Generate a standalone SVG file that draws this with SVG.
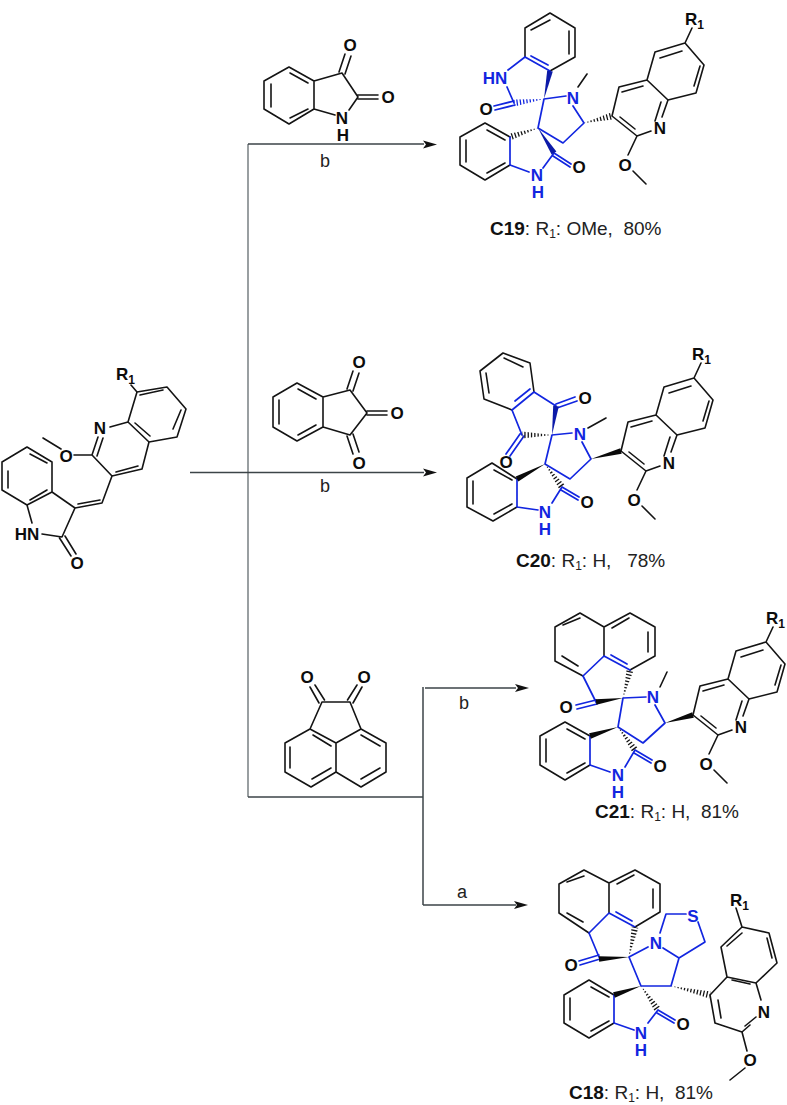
<svg xmlns="http://www.w3.org/2000/svg" xmlns:xlink="http://www.w3.org/1999/xlink" width="787" height="1105" viewBox="0 0 787 1105">
<style>
text{font-family:"Liberation Sans",Arial,sans-serif}
.k{fill:none;stroke:#141414;stroke-width:1.6;stroke-linejoin:round;stroke-linecap:round}
.b{fill:none;stroke:#1226e0;stroke-width:1.7;stroke-linejoin:round;stroke-linecap:round}
.wk{fill:#0a0a0a}
.wb{fill:#0c1aa8}
.hk{stroke:#141414;stroke-width:8;stroke-dasharray:1.3 2;fill:none}
.hb{stroke:#1226e0;stroke-width:8;stroke-dasharray:1.3 2;fill:none}
.a{font-size:17px;font-weight:700;fill:#0c0c0c;text-anchor:middle}
.ab{font-size:17px;font-weight:700;fill:#1226e0;text-anchor:middle}
.r{font-size:17px;font-weight:700;fill:#0c0c0c}
.s{font-size:12px}
.c{font-size:19px;fill:#222}
.c .m{font-weight:700;fill:#111}
.l{font-size:18px;fill:#222;text-anchor:middle}
.w{fill:none;stroke:#3c4448;stroke-width:1.5}
.g{fill:none;stroke:#80878a;stroke-width:1.6}
.h{fill:#111}
</style>
<defs>
<g id="q">
<path class="k" d="M0,0L7,-29L35,-36L56,-16L50,1M25,20L39,15M25,20L0,0M35,-36L43,-64L73,-73L92,-51L84,-23L56,-16M73,-73L80,-88M25,20L16,39M21,55L34,68M10,-24L31,-30M8,1L23,13M49,-14L43,5M48,-58L70,-65M88,-50L82,-30"/>
</g>
<clipPath id="h1"><polygon points="544,99 514.5,106.5 513.5,99.5"/></clipPath>
<clipPath id="h2"><polygon points="538,128 511.1,140.3 508.9,133.7"/></clipPath>
<clipPath id="h3"><polygon points="584,123 612.85,119.4 611.15,112.6"/></clipPath>
<clipPath id="h4"><polygon points="552,435 522,438.5 522,431.5"/></clipPath>
<clipPath id="h5"><polygon points="545,464 564.8,484.9 559.2,489.1"/></clipPath>
<clipPath id="h6"><polygon points="623,698 633.4,670.85 626.6,669.15"/></clipPath>
<clipPath id="h7"><polygon points="618,727 637.8,747.9 632.2,752.1"/></clipPath>
<clipPath id="h8"><polygon points="629,957 638.4,927.7 631.6,926.3"/></clipPath>
<clipPath id="h9"><polygon points="641,986 660.9,1008 655.1,1012"/></clipPath>
<clipPath id="h10"><polygon points="671,986 709.2,998.4 710.8,991.6"/></clipPath>
</defs>

<g id="connectors">
<path class="g" d="M248,144V797"/>
<path class="w" d="M248,144H424M190,472.500H424M248,797H423M423,687V905M425,688H516M423,905H516"/>
<polygon class="h" points="437,144.500 423,140.500 426,144.500 423,148.500"/>
<polygon class="h" points="437,472.500 423,468.500 426,472.500 423,476.500"/>
<polygon class="h" points="529,688 515,684 518,688 515,692"/>
<polygon class="h" points="528,905 514,901 517,905 514,909"/>
<text class="l" x="325" y="167">b</text>
<text class="l" x="325" y="492">b</text>
<text class="l" x="464" y="709">b</text>
<text class="l" x="462" y="898">a</text>
</g>

<g id="reactant">
<path class="k" d="M52,492L52,462L27,447L2,462L2,490L27,505L52,492L75,508L62,537L42,534M27,505L32,523M30,454L47,463M8,471L8,488M30,500L47,490M59.500,538L71,556M65,536L76,554M75,508L102,503L112,476L142,469L149,442L128,422L110,427M78,504L100,500M116,472L138,466M128,422L137,392L167,387L186,409L177,437L149,442M140,395L163,390M181,410L173,429M135,423L150,436M137,392L131,385M98,437L92,455L112,476M103,438L97,456M92,455L74,455M61,449L43,438"/>
<text class="a" x="100" y="434">N</text>
<text class="a" x="66" y="462">O</text>
<text class="a" x="27" y="540">HN</text>
<text class="a" x="77" y="569">O</text>
<text class="r" x="116" y="380">R<tspan class="s" dy="4">1</tspan></text>
</g>

<g id="isatin">
<path class="k" d="M264,81L289,67L314,81L314,109L289,124L264,109ZM271,84L271,107M290,73L308,83M290,118L308,109M314,81L342,73L358,97L349,110M335,115L314,109M339,72L345,54M345,74L351,56M358,95L378,95M358,99L378,99"/>
<text class="a" x="350" y="51">O</text>
<text class="a" x="388" y="103">O</text>
<text class="a" x="342" y="124">N</text>
<text class="a" x="343" y="141">H</text>
</g>

<g id="ninhydrin">
<path class="k" d="M273,397L297,383L323,397L323,427L297,441L273,427ZM279,400L279,424M298,389L316,399M298,435L316,425M323,397L350,390L367,413L350,435L323,427M347,389L353,371M353,391L359,373M367,411L387,411M367,415L387,415M347,436L353,454M353,434L359,452"/>
<text class="a" x="359" y="368">O</text>
<text class="a" x="397" y="419">O</text>
<text class="a" x="359" y="469">O</text>
</g>

<g id="acenaphthoquinone">
<path class="k" d="M322,702H350M310,729L322,702M361,729L350,702M285,743L310,729L336,743L361,729L386,743V772L361,787L336,772L311,787L285,772ZM336,743V772M290,747V768M312,779L331,768M313,735L331,746M361,735L380,746M361,779L380,768M319,703L310,687M324.500,700L315,685M347.500,700L357,685M353,703L362,687"/>
<text class="a" x="307" y="683">O</text>
<text class="a" x="364" y="683">O</text>
</g>

<g id="C19">
<path class="k" d="M525,57L525,28L550,13L575,28L575,57L550,71M531,30L550,20M569,31L569,54M578,87L587,74M510,137L485,123L460,137L460,165L485,180L510,165M466,140L466,162M487,130L505,140M487,173L505,163"/>
<use xlink:href="#q" href="#q" x="612" y="116"/>
<path class="b" d="M525,57L550,71M531,56L548,65M525,57L508,70M507,87L514,103M514,101L494,106M515,105L495,110M544,99L566,96M573,106L584,123L563,143L538,128L544,99M510,137L510,165L529,172M543,168L554,153L571,164M553,156L570,167"/>
<polygon class="wb" points="544,99 552.8,71.600 547.200,70.400"/>
<polygon class="wb" points="538,128 556.400,151.500 551.600,154.500"/>
<line class="hb" x1="544" y1="99" x2="514" y2="103" clip-path="url(#h1)"/>
<line class="hk" x1="538" y1="128" x2="510" y2="137" clip-path="url(#h2)"/>
<line class="hk" x1="584" y1="123" x2="612" y2="116" clip-path="url(#h3)"/>
<text class="ab" x="495" y="84">HN</text>
<text class="a" x="486" y="115">O</text>
<text class="ab" x="573" y="104">N</text>
<text class="ab" x="537" y="181">N</text>
<text class="ab" x="538" y="198">H</text>
<text class="a" x="579" y="173">O</text>
<text class="a" x="660" y="134">N</text>
<text class="a" x="625" y="171">O</text>
<text class="r" x="685" y="25">R<tspan class="s" dy="4">1</tspan></text>
<text class="c" x="490" y="235"><tspan class="m">C19</tspan>: R<tspan class="s" dy="3">1</tspan><tspan dy="-3">: OMe,&#160; 80%</tspan></text>
</g>

<g id="C20">
<path class="k" d="M534,392L530,363L503,353L480,371L484,399L512,410M504,358L523,367M486,373L489,393M588,428L606,418M517,479L492,463L467,478L467,507L493,521L517,507M473,481L473,504M494,470L512,480M494,514L512,504"/>
<use xlink:href="#q" href="#q" x="621" y="451"/>
<path class="b" d="M512,410L534,392L556,406M515,401L530,389M512,410L522,435M556,404L575,397M557,408L577,401M520,434L506,454M524,436L510,456M552,435L572,433M582,442L591,459L570,479L545,464L552,435M517,479L517,507L538,510M552,503L562,487L579,497M561,490L578,500"/>
<polygon class="wb" points="552,435 558.800,406.400 553.200,405.600"/>
<polygon class="wk" points="545,464 518.300,481.500 515.700,476.500"/>
<polygon class="wk" points="591,459 621.700,453.700 620.300,448.300"/>
<line class="hk" x1="552" y1="435" x2="522" y2="435" clip-path="url(#h4)"/>
<line class="hk" x1="545" y1="464" x2="562" y2="487" clip-path="url(#h5)"/>
<text class="a" x="585" y="404">O</text>
<text class="a" x="506" y="468">O</text>
<text class="ab" x="580" y="440">N</text>
<text class="ab" x="545" y="518">N</text>
<text class="ab" x="545" y="535">H</text>
<text class="a" x="587" y="508">O</text>
<text class="a" x="669" y="469">N</text>
<text class="a" x="634" y="506">O</text>
<text class="r" x="692" y="360">R<tspan class="s" dy="4">1</tspan></text>
<text class="c" x="516" y="567"><tspan class="m">C20</tspan>: R<tspan class="s" dy="3">1</tspan><tspan dy="-3">: H,&#160;&#160; 78%</tspan></text>
</g>

<g id="C21">
<path class="k" d="M583,676L555,661V627L580,613L604,627L630,613L655,627V656L630,670M604,627V656M563,625L580,618M562,656L578,666M612,628L629,618M648,632V652M660,687L667,672M590,736L565,722L540,736V765L565,780L590,765M546,739V762M567,729L585,739M567,773L585,763"/>
<use xlink:href="#q" href="#q" x="693" y="715"/>
<path class="b" d="M583,676L604,656L630,670M611,655L627,664M583,676L596,702M596,700L576,705M597,704L577,709M623,698L646,697M655,705L665,723L643,743L618,727L623,698M590,736L590,765L610,772M625,767L635,750L652,760M634,753L651,763"/>
<polygon class="wk" points="623,698 596.400,704.800 595.600,699.200"/>
<polygon class="wk" points="618,727 590.900,738.700 589.100,733.300"/>
<polygon class="wk" points="665,723 693.800,717.700 692.200,712.300"/>
<line class="hk" x1="623" y1="698" x2="630" y2="670" clip-path="url(#h6)"/>
<line class="hk" x1="618" y1="727" x2="635" y2="750" clip-path="url(#h7)"/>
<text class="a" x="566" y="713">O</text>
<text class="ab" x="653" y="703">N</text>
<text class="ab" x="618" y="781">N</text>
<text class="ab" x="618" y="798">H</text>
<text class="a" x="660" y="772">O</text>
<text class="a" x="741" y="733">N</text>
<text class="a" x="706" y="770">O</text>
<text class="r" x="766" y="624">R<tspan class="s" dy="4">1</tspan></text>
<text class="c" x="595" y="818"><tspan class="m">C21</tspan>: R<tspan class="s" dy="3">1</tspan><tspan dy="-3">: H,&#160; 81%</tspan></text>
</g>

<g id="C18">
<path class="k" d="M589,933L559,913V884L584,870L609,883L635,870L660,884V912L635,927M609,883V913M567,882L584,876M567,913L583,922M617,884L634,875M653,889V908M614,995L589,980L564,995V1023L589,1038L614,1023M570,998V1020M591,987L609,997M591,1031L609,1021"/>
<path class="k" d="M710,995L715,1023L742,1032L750,1025M710,995L727,977L721,947L742,927L769,933L777,963L756,983L761,1000M727,977L756,983M742,927L736,908M718,1000L721,1018M732,980L750,984M727,946L742,933M767,938L772,958M745,1026L756,1017M742,1032L747,1051M745,1068L730,1080"/>
<path class="b" d="M589,933L609,913L635,927M616,912L632,921M589,933L599,957M599,955L579,961M600,959L580,965M629,957L648,947M663,948L679,958L671,986L641,986L629,957M660,933L666,914L686,914M698,922L705,942L679,958M614,995L614,1023L634,1030M648,1023L658,1010L675,1020M657,1013L674,1023"/>
<polygon class="wk" points="629,957 599.200,961.800 598.800,956.200"/>
<polygon class="wk" points="641,986 614.900,997.700 613.100,992.300"/>
<line class="hk" x1="629" y1="957" x2="635" y2="927" clip-path="url(#h8)"/>
<line class="hk" x1="641" y1="986" x2="658" y2="1010" clip-path="url(#h9)"/>
<line class="hk" x1="671" y1="986" x2="710" y2="995" clip-path="url(#h10)"/>
<text class="a" x="571" y="971">O</text>
<text class="ab" x="656" y="949">N</text>
<text class="ab" x="693" y="922">S</text>
<text class="ab" x="641" y="1039">N</text>
<text class="ab" x="641" y="1056">H</text>
<text class="a" x="683" y="1030">O</text>
<text class="a" x="764" y="1018">N</text>
<text class="a" x="750" y="1066">O</text>
<text class="r" x="730" y="906">R<tspan class="s" dy="4">1</tspan></text>
<text class="c" x="569" y="1099"><tspan class="m">C18</tspan>: R<tspan class="s" dy="3">1</tspan><tspan dy="-3">: H,&#160; 81%</tspan></text>
</g>
</svg>
